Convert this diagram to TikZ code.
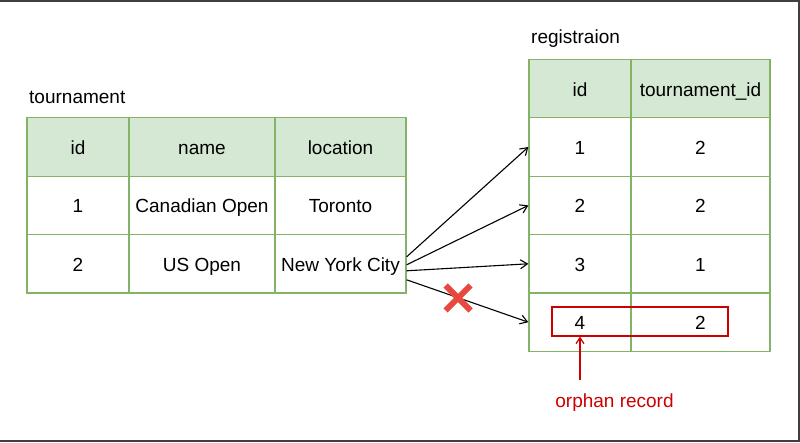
\documentclass[tikz,border=0pt]{standalone}
\usepackage{fontspec}
\setmainfont{Liberation Sans}
\usetikzlibrary{arrows.meta}
\definecolor{cellfill}{HTML}{D5E8D4}
\definecolor{cellline}{HTML}{82B366}
\definecolor{orphanred}{HTML}{CC0000}
\definecolor{crossred}{HTML}{E8483D}
\tikzset{
  txt/.style={font=\fontsize{19}{23}\selectfont, inner sep=0pt},
  cell/.style={txt, draw=cellline, line width=1.3pt, minimum height=58.4pt,
    text height=16pt, text depth=1pt},
  head/.style={cell, fill=cellfill},
  link/.style={-{Straight Barb[length=7pt,width=9pt]}, line width=1.1pt},
}
\begin{document}
\begin{tikzpicture}[x=1pt, y=-1pt]
    \useasboundingbox (0,0) rectangle (800,443);
    % Frame
    \draw[line width=2pt, black!75] (0,1) -- (799,1) -- (799,441) -- (0,441);
    % Tournament table
    \node[txt, anchor=west] (tlabel) at (29,97.5) {tournament};
    \node[head, minimum width=102pt] (t-0-1) at (78,147) {id};
    \node[head, minimum width=146pt] (t-0-2) at (202,147) {name};
    \node[head, minimum width=131pt] (t-0-3) at (340.5,147) {location};
    \node[cell, minimum width=102pt] (t-1-1) at (78,205.4) {1};
    \node[cell, minimum width=146pt] (t-1-2) at (202,205.4) {Canadian Open};
    \node[cell, minimum width=131pt] (t-1-3) at (340.5,205.4) {Toronto};
    \node[cell, minimum width=102pt] (t-2-1) at (78,263.8) {2};
    \node[cell, minimum width=146pt] (t-2-2) at (202,263.8) {US Open};
    \node[cell, minimum width=131pt] (t-2-3) at (340.5,263.8) {New York City};
    % Registration table
    \node[txt, anchor=west] (rlabel) at (531,39) {registraion};
    \node[head, minimum width=102pt] (r-0-1) at (580,88.6) {id};
    \node[head, minimum width=139pt] (r-0-2) at (700.5,88.6) {tournament\_id};
    \foreach \i/\a/\b in {1/1/2, 2/2/2, 3/3/1, 4/4/2} {
        \node[cell, minimum width=102pt] (r-\i-1) at (580,88.6+58.4*\i) {\a};
        \node[cell, minimum width=139pt] (r-\i-2) at (700.5,88.6+58.4*\i) {\b};
    }
    % Links
    \draw[link] ([yshift=7pt]t-2-3.east) -- (r-1-1.west);
    \draw[link] ([yshift=-1pt]t-2-3.east) -- (r-2-1.west);
    \draw[link] ([yshift=-7pt]t-2-3.east) -- (r-3-1.west);
    \draw[link] ([yshift=-16pt]t-2-3.east) -- (r-4-1.west);
    % Broken link
    \coordinate (cross) at (458,298);
    \draw[crossred, line width=6pt] ([shift={(-12.5,-12.5)}]cross) -- ([shift={(12.5,12.5)}]cross)
        ([shift={(-12.5,12.5)}]cross) -- ([shift={(12.5,-12.5)}]cross);
    % Orphan record
    \node[draw=orphanred, line width=1.2pt, minimum width=176pt, minimum height=29pt,
        inner sep=0pt] (orphan) at (640,321.5) {};
    \node[txt, text=orphanred] (olabel) at (614.5,402.5) {orphan record};
    \coordinate (otail) at (580,380);
    \draw[orphanred, line width=1.2pt, -{Straight Barb[length=6pt,width=8pt]}] (otail) -- (otail |- orphan.south);
\end{tikzpicture}
\end{document}
